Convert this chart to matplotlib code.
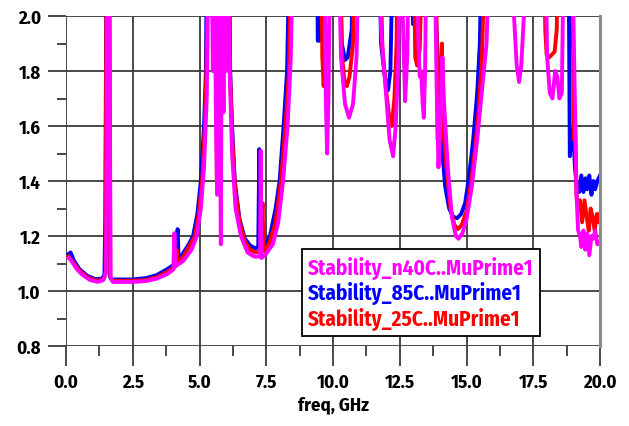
import numpy as np
import matplotlib; matplotlib.use("Agg")
import matplotlib.pyplot as plt
from matplotlib.ticker import MultipleLocator

plt.rcParams['font.family'] = ['Fira Sans Condensed', 'DejaVu Sans']
plt.rcParams['font.weight'] = 'bold'

# values above 2.0 are off the top of the chart (clipped by the y-limit)
f_n40 = [0.1, 0.2, 0.4, 0.6, 0.9, 1.2, 1.4, 1.5, 1.55, 1.62, 1.67, 1.75, 2.5, 3.0, 3.4, 3.8,
         4.02, 4.06, 4.1, 4.4, 4.7, 4.9, 5.05, 5.17, 5.27, 5.35, 5.45, 5.5, 5.55, 5.62, 5.66,
         5.7, 5.77, 5.8, 5.84, 5.9, 5.95, 6.0, 6.05, 6.08, 6.13, 6.22, 6.35, 6.55, 6.8, 7.05,
         7.2, 7.27, 7.29, 7.32, 7.45, 7.75, 7.95, 8.13, 8.3, 8.42, 8.5, 9.68, 9.73, 9.78, 9.83,
         9.9, 10.2, 10.3, 10.45, 10.6, 10.75, 10.88, 10.97, 11.7, 11.8, 12.0, 12.12, 12.25,
         12.35, 12.45, 12.5, 12.6, 12.7, 12.78, 12.85, 13.15, 13.2, 13.25, 13.3, 13.36, 13.4,
         13.45, 13.5, 13.8, 13.88, 13.95, 14.02, 14.1, 14.15, 14.3, 14.45, 14.6, 14.7, 14.85,
         15.0, 15.2, 15.4, 15.6, 15.75, 15.88, 16.7, 16.78, 16.88, 16.97, 17.05, 17.15, 17.22,
         17.95, 18.02, 18.12, 18.22, 18.32, 18.4, 18.48, 18.57, 18.65, 18.95, 19.05, 19.12,
         19.18, 19.25, 19.3, 19.38, 19.45, 19.52, 19.6, 19.68, 19.75, 19.82, 19.9, 20.0]
mu_n40 = [1.12, 1.11, 1.08, 1.06, 1.04, 1.033, 1.04, 1.07, 2.3, 2.3, 1.05, 1.033, 1.033, 1.036,
          1.045, 1.062, 1.078, 1.21, 1.09, 1.11, 1.15, 1.2, 1.3, 1.45, 1.7, 2.3, 2.3, 1.8, 2.3,
          1.6, 1.35, 2.3, 1.62, 1.17, 2.3, 1.65, 2.3, 1.8, 2.3, 2.1, 1.8, 1.5, 1.3, 1.2, 1.14,
          1.125, 1.125, 1.13, 1.51, 1.12, 1.13, 1.17, 1.25, 1.4, 1.6, 1.85, 2.3, 2.3, 1.7, 1.5,
          1.7, 2.3, 2.3, 1.85, 1.68, 1.63, 1.68, 1.85, 2.3, 2.3, 1.95, 1.7, 1.55, 1.49, 1.6,
          1.85, 2.3, 2.05, 1.69, 1.85, 2.3, 2.3, 1.9, 1.78, 1.8, 1.68, 1.63, 1.8, 2.3, 2.3, 1.75,
          1.45, 1.6, 1.85, 1.7, 1.45, 1.27, 1.2, 1.19, 1.21, 1.26, 1.38, 1.55, 1.75, 1.9, 2.3,
          2.3, 2.0, 1.82, 1.76, 1.82, 2.0, 2.3, 2.3, 1.85, 1.72, 1.7, 1.8, 1.78, 1.7, 1.72, 2.3,
          2.3, 1.75, 1.35, 1.22, 1.2, 1.16, 1.22, 1.15, 1.21, 1.13, 1.2, 1.19, 1.22, 1.17, 1.18]

f_85 = [0.1, 0.17, 0.3, 0.5, 0.8, 1.1, 1.35, 1.44, 1.47, 1.52, 1.6, 1.65, 1.72, 2.5, 3.0, 3.4,
        3.8, 4.1, 4.18, 4.22, 4.4, 4.6, 4.76, 4.92, 5.05, 5.17, 5.24, 5.28, 6.1, 6.15, 6.22,
        6.32, 6.5, 6.7, 6.9, 7.1, 7.2, 7.24, 7.27, 7.4, 7.64, 7.85, 8.0, 8.15, 8.28, 8.38, 9.4,
        9.43, 9.48, 9.52, 10.25, 10.33, 10.45, 10.55, 10.7, 10.75, 11.72, 11.8, 11.95, 12.06,
        12.15, 12.25, 12.95, 13.0, 13.05, 13.8, 13.85, 14.0, 14.1, 14.2, 14.35, 14.5, 14.65,
        14.8, 14.95, 15.1, 15.25, 15.4, 15.5, 15.58, 18.82, 18.87, 18.92, 19.0, 19.06, 19.14,
        19.22, 19.3, 19.38, 19.46, 19.52, 19.6, 19.68, 19.75, 19.82, 19.9, 20.0]
mu_85 = [1.135, 1.14, 1.11, 1.08, 1.055, 1.043, 1.045, 1.06, 1.27, 2.3, 2.3, 1.05, 1.042, 1.042,
         1.047, 1.058, 1.08, 1.1, 1.225, 1.11, 1.14, 1.17, 1.2, 1.28, 1.4, 1.6, 1.8, 2.3, 2.3,
         1.8, 1.6, 1.4, 1.26, 1.19, 1.165, 1.155, 1.16, 1.516, 1.16, 1.16, 1.2, 1.3, 1.4, 1.6,
         1.8, 2.3, 2.3, 1.91, 1.91, 2.3, 2.3, 1.9, 1.84, 1.85, 1.95, 2.3, 2.3, 1.9, 1.77, 1.73,
         1.8, 2.3, 2.3, 1.97, 2.3, 2.3, 2.0, 1.7, 1.5, 1.38, 1.3, 1.27, 1.265, 1.28, 1.32, 1.42,
         1.55, 1.72, 1.9, 2.3, 2.3, 1.49, 1.55, 1.59, 1.45, 1.37, 1.36, 1.42, 1.36, 1.41, 1.37,
         1.42, 1.35, 1.4, 1.37, 1.4, 1.42]

f_25 = [0.1, 0.3, 0.5, 0.8, 1.15, 1.4, 1.48, 1.52, 1.62, 1.66, 1.74, 2.5, 3.0, 3.4, 3.8, 4.1,
        4.15, 4.2, 4.4, 4.6, 4.83, 4.97, 5.1, 5.2, 5.26, 5.32, 5.6, 5.65, 5.7, 6.08, 6.14, 6.23,
        6.33, 6.5, 6.7, 6.9, 7.1, 7.3, 7.36, 7.4, 7.6, 7.85, 8.05, 8.22, 8.35, 8.45, 9.55, 9.6,
        9.65, 9.7, 9.75, 10.25, 10.32, 10.42, 10.52, 10.62, 10.75, 10.82, 11.75, 11.85, 12.0,
        12.12, 12.2, 12.3, 12.38, 12.42, 13.02, 13.08, 13.15, 13.25, 13.35, 13.85, 13.92, 14.0,
        14.08, 14.12, 14.25, 14.4, 14.55, 14.68, 14.82, 15.0, 15.15, 15.3, 15.45, 15.58, 15.7,
        17.9, 17.95, 18.0, 18.1, 18.2, 18.3, 18.38, 18.43, 18.95, 19.02, 19.07, 19.12, 19.18,
        19.25, 19.33, 19.42, 19.5, 19.58, 19.65, 19.72, 19.8, 19.88, 19.95, 20.0]
mu_25 = [1.125, 1.1, 1.075, 1.05, 1.037, 1.042, 1.06, 2.3, 2.3, 1.05, 1.037, 1.037, 1.04, 1.05,
         1.07, 1.09, 1.15, 1.1, 1.125, 1.16, 1.2, 1.28, 1.4, 1.6, 1.8, 2.3, 2.3, 1.4, 2.3, 2.3,
         1.8, 1.55, 1.38, 1.25, 1.18, 1.15, 1.14, 1.145, 1.32, 1.145, 1.17, 1.25, 1.4, 1.6, 1.8,
         2.3, 2.3, 1.85, 1.745, 1.85, 2.3, 2.3, 1.88, 1.77, 1.745, 1.78, 1.9, 2.3, 2.3, 1.88,
         1.72, 1.62, 1.6, 1.7, 1.9, 2.3, 2.3, 1.85, 1.82, 1.88, 2.3, 2.3, 1.55, 1.6, 1.9, 1.6,
         1.45, 1.3, 1.24, 1.225, 1.24, 1.29, 1.38, 1.5, 1.65, 1.85, 2.3, 2.3, 1.95, 1.86, 1.85,
         1.86, 1.87, 1.95, 2.3, 2.3, 1.55, 1.6, 1.35, 1.3, 1.33, 1.25, 1.33, 1.27, 1.22, 1.3,
         1.27, 1.22, 1.28, 1.25, 1.28]

labels = ["Stability_n40C..MuPrime1", "Stability_85C..MuPrime1", "Stability_25C..MuPrime1"]
colors = ["#ff00ff", "#0000ff", "#ff0000"]

fig = plt.figure(figsize=(6.29, 4.27), dpi=100)
ax = fig.add_axes([66/629, 1 - 347/427, 534/629, 330/427])

lw = 2.8
l85, = ax.plot(f_85, mu_85, color=colors[1], lw=lw, solid_joinstyle="round")
l25, = ax.plot(f_25, mu_25, color=colors[2], lw=lw, solid_joinstyle="round")
ln40, = ax.plot(f_n40, mu_n40, color=colors[0], lw=lw, solid_joinstyle="round")

ax.set_xlim(0, 20)
ax.set_ylim(0.8, 2.0)
ax.xaxis.set_major_locator(MultipleLocator(2.5))
ax.xaxis.set_minor_locator(MultipleLocator(1.25))
ax.yaxis.set_major_locator(MultipleLocator(0.2))
ax.yaxis.set_minor_locator(MultipleLocator(0.1))
ax.xaxis.set_major_formatter(lambda v, p: f"{v:.1f}")
ax.yaxis.set_major_formatter(lambda v, p: f"{v:.1f}")

gc = "#3a3a3a"
ax.grid(True, which="major", color=gc, lw=1.3)
for s in ax.spines.values():
    s.set_visible(False)
ax.axvline(20, color="#8a8a8a", lw=2.2, clip_on=False)
ax.tick_params(axis="x", which="major", direction="out", length=14.4, width=1.3, color=gc,
               labelsize=13.5, pad=5)
ax.tick_params(axis="x", which="minor", direction="out", length=7.2, width=1.3, color=gc)
ax.tick_params(axis="y", which="major", direction="out", length=13, width=1.3, color=gc,
               labelsize=13.5, pad=5)
ax.tick_params(axis="y", which="minor", direction="out", length=6.5, width=1.3, color=gc)
ax.set_xlabel("freq, GHz", fontsize=13.5, fontweight="bold", labelpad=3)

leg = ax.legend([ln40, l85, l25], labels, loc="lower right",
                bbox_to_anchor=((540 - 66) / 534, (347 - 337) / 330), borderaxespad=0,
                handlelength=0, handletextpad=0, fancybox=False, framealpha=1,
                edgecolor="black", fontsize=15.2, labelspacing=0.12, borderpad=0.3)
leg.get_frame().set_linewidth(1.3)
for h in leg.legend_handles:
    h.set_visible(False)
for t, c in zip(leg.get_texts(), colors):
    t.set_color(c)
    t.set_fontweight("bold")

fig.savefig("out.png", dpi=100)
